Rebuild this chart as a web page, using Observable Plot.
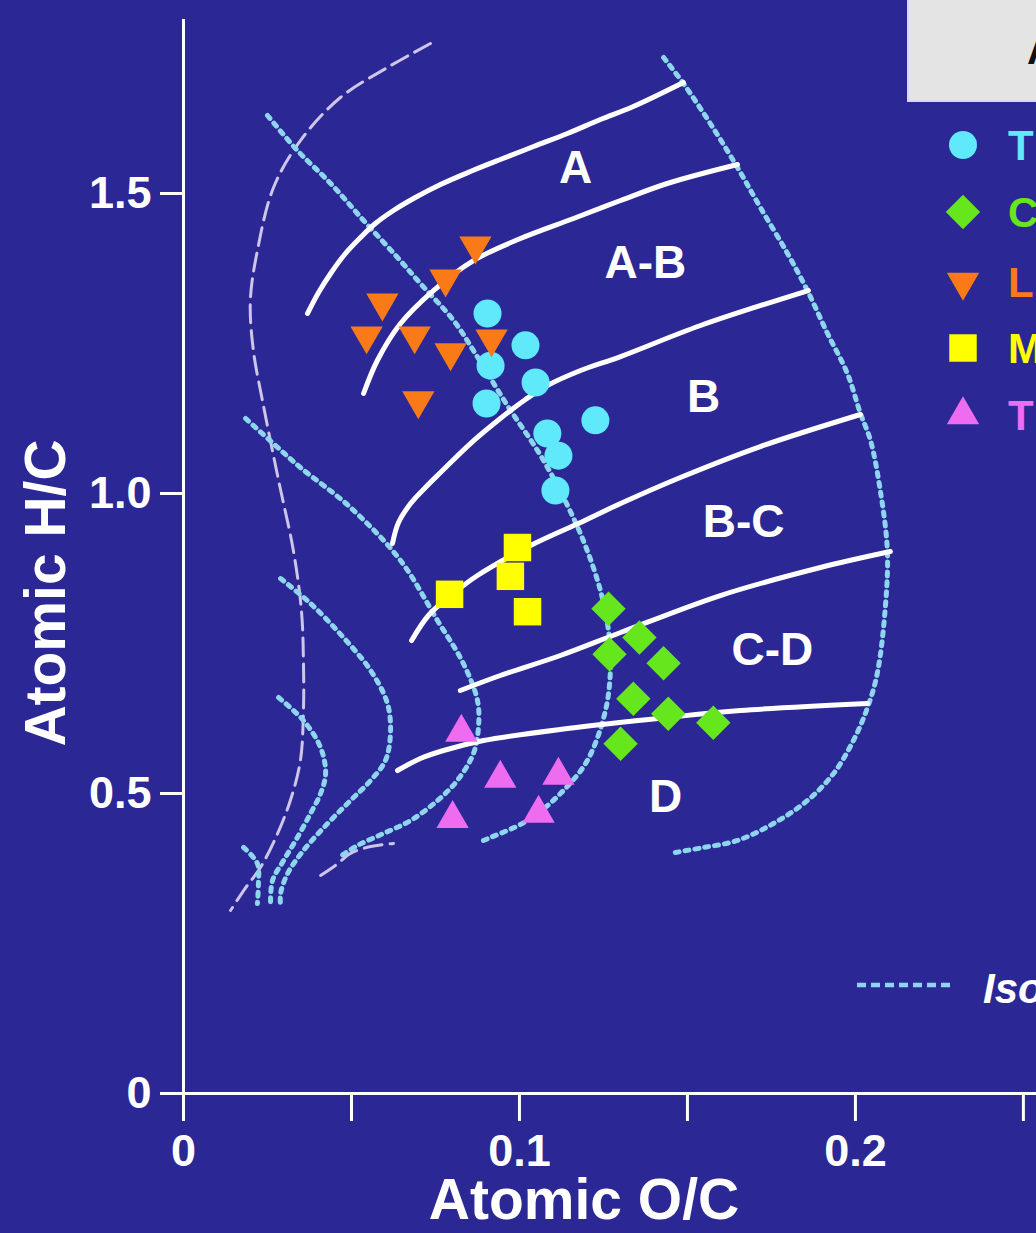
<!DOCTYPE html>
<html>
<head>
<meta charset="utf-8">
<script src="https://cdn.jsdelivr.net/npm/d3@7"></script>
<script src="https://cdn.jsdelivr.net/npm/@observablehq/plot@0.6"></script>
<style>
  html, body { margin: 0; padding: 0; background: #2b2795; overflow: hidden; width: 1036px; height: 1233px; }
  #wrap { position: relative; width: 1036px; height: 1233px; overflow: hidden; }
  #overlay { position: absolute; left: 0; top: 0; pointer-events: none; }
</style>
</head>
<body>
<div id="wrap"></div>
<script>
// ---------- axis ticks ----------
const xTickValues = [0, 0.05, 0.1, 0.15, 0.2, 0.25];
const xTickLabels = ["0", "", "0.1", "", "0.2", ""];
const yTickValues = [0, 0.5, 1.0, 1.5];
const yTickLabels = ["0", "0.5", "1.0", "1.5"];
const xDomain = [0, 0.2539];
const yDomain = [0, 1.8217];
const yAxisTop = 1.79;

// ---------- sample series (O/C, H/C) ----------
const circleOC = [0.0905, 0.1018, 0.0914, 0.1048, 0.0902, 0.1226, 0.1083, 0.1116, 0.1107];
const circleHC = [1.300, 1.247, 1.213, 1.185, 1.150, 1.122, 1.100, 1.063, 1.005];
const diamondOC = [0.1265, 0.1357, 0.1268, 0.1429, 0.1339, 0.1443, 0.1577, 0.1301];
const diamondHC = [0.808, 0.760, 0.732, 0.717, 0.658, 0.633, 0.618, 0.583];
const downTriOC = [0.0869, 0.0780, 0.0592, 0.0545, 0.0688, 0.0795, 0.0917, 0.0699];
const downTriHC = [1.413, 1.358, 1.318, 1.263, 1.263, 1.235, 1.258, 1.155];
const squareOC = [0.0994, 0.0973, 0.0792, 0.1024];
const squareHC = [0.910, 0.862, 0.832, 0.803];
const upTriOC = [0.0827, 0.0943, 0.1116, 0.0801, 0.1057];
const upTriHC = [0.602, 0.525, 0.530, 0.458, 0.467];

const legendLabels = ["T", "C", "L", "M", "T"];
const seriesColors = ["#5fe9fb", "#66e61c", "#f97a16", "#ffff00", "#ee6cef"];

// ---------- organic facies boundaries (white) ----------
const facies1 = [[0.0369,1.300],[0.0402,1.335],[0.0438,1.3667],[0.0482,1.40],[0.0527,1.4267],[0.0571,1.45],[0.0625,1.4717],[0.0690,1.4933],[0.0765,1.515],[0.0854,1.5367],[0.0943,1.5567],[0.1042,1.5783],[0.1143,1.60],[0.1241,1.6233],[0.1339,1.645],[0.1488,1.685]];
const facies2 = [[0.0536,1.1667],[0.0577,1.2217],[0.0646,1.2833],[0.0744,1.3383],[0.0863,1.3883],[0.1003,1.425],[0.1161,1.4583],[0.1301,1.4883],[0.1440,1.5167],[0.1649,1.5483]];
const facies3 = [[0.0622,0.9167],[0.0640,0.9517],[0.0676,0.9833],[0.0720,1.01],[0.0765,1.035],[0.0854,1.0833],[0.0943,1.125],[0.1018,1.1567],[0.1083,1.18],[0.1182,1.205],[0.1301,1.2283],[0.1539,1.28],[0.1860,1.3383]];
const facies4 = [[0.0679,0.755],[0.0729,0.7967],[0.0792,0.8283],[0.0875,0.8633],[0.1033,0.9133],[0.1182,0.9517],[0.1301,0.9833],[0.1479,1.0267],[0.1717,1.0783],[0.2015,1.1317]];
const facies5 = [[0.0824,0.6717],[0.0943,0.6967],[0.1122,0.73],[0.1301,0.7683],[0.1598,0.83],[0.1896,0.8767],[0.2104,0.9033]];
const facies6 = [[0.0637,0.5383],[0.0705,0.5583],[0.0774,0.5717],[0.0893,0.5883],[0.1143,0.6083],[0.1440,0.6267],[0.1658,0.6383],[0.2036,0.65]];

// ---------- isoreflectance lines (dotted) ----------
const iso1 = [[0.0250,1.63],[0.0339,1.5717],[0.0438,1.5167],[0.0536,1.455],[0.0637,1.3933],[0.0705,1.35],[0.0804,1.2883],[0.0863,1.2383],[0.0964,1.1467],[0.1063,1.0633],[0.1143,0.98],[0.1196,0.9133],[0.1241,0.8383],[0.1265,0.7717],[0.1271,0.71],[0.1256,0.6383],[0.1202,0.555],[0.1122,0.5],[0.1024,0.455],[0.0914,0.4267],[0.0878,0.4183]];
const iso2 = [[0.1429,1.7267],[0.1488,1.6833],[0.1568,1.6167],[0.1649,1.5433],[0.1717,1.4767],[0.1798,1.4],[0.1857,1.3383],[0.1917,1.2667],[0.1976,1.2],[0.2015,1.1333],[0.2045,1.0883],[0.2074,1.005],[0.2095,0.905],[0.2089,0.81],[0.2065,0.70],[0.2036,0.6433],[0.1994,0.5883],[0.1935,0.5333],[0.1857,0.4883],[0.1756,0.45],[0.1649,0.4217],[0.1548,0.41],[0.1464,0.4017]];
const iso3 = [[0.0185,1.125],[0.0274,1.08],[0.0348,1.0433],[0.0497,0.9767],[0.0646,0.8883],[0.0756,0.7883],[0.0833,0.7167],[0.0875,0.655],[0.0878,0.61],[0.0863,0.5667],[0.0815,0.5217],[0.0756,0.4883],[0.0676,0.455],[0.0595,0.4333],[0.0518,0.4133],[0.0467,0.395]];
const iso4 = [[0.0289,0.8583],[0.0378,0.8167],[0.0476,0.76],[0.0557,0.705],[0.0607,0.65],[0.0616,0.60],[0.0601,0.555],[0.0557,0.5217],[0.0497,0.4883],[0.0429,0.45],[0.0357,0.405],[0.0310,0.3667],[0.0289,0.3333],[0.0289,0.3133]];
const iso5 = [[0.0283,0.66],[0.0357,0.6217],[0.0408,0.5767],[0.0423,0.5333],[0.0408,0.50],[0.0378,0.4667],[0.0339,0.4267],[0.0298,0.3883],[0.0265,0.355],[0.0259,0.3167]];
const iso6 = [[0.0179,0.41],[0.0220,0.3833],[0.0223,0.35],[0.0220,0.3167]];

// ---------- coal band limit (dashed) ----------
const band1 = [[0.0735,1.75],[0.0607,1.71],[0.0467,1.66],[0.0348,1.5883],[0.0268,1.51],[0.0220,1.405],[0.0199,1.3217],[0.0208,1.2383],[0.0235,1.155],[0.0283,1.0217],[0.0327,0.905],[0.0351,0.805],[0.0357,0.7217],[0.0357,0.6383],[0.0348,0.555],[0.0318,0.4883],[0.0280,0.4333],[0.0229,0.3767],[0.0179,0.3383],[0.0140,0.305]];
const band2 = [[0.0408,0.3633],[0.0452,0.38],[0.0497,0.40],[0.0557,0.4117],[0.0625,0.4167]];

// ---------- zone labels ----------
const zoneNames = ["A", "A-B", "B", "B-C", "C-D", "D"];
const zoneOC = [0.1167, 0.1375, 0.1548, 0.1667, 0.1753, 0.1435];
const zoneHC = [1.5417, 1.3833, 1.16, 0.9517, 0.7383, 0.4933];

// ---------- build tables ----------
const toPts = (oc, hc, s) => oc.map((x, i) => ({x, y: hc[i], s}));
const circles = toPts(circleOC, circleHC, 0);
const diamonds = toPts(diamondOC, diamondHC, 1);
const downTris = toPts(downTriOC, downTriHC, 2);
const squares = toPts(squareOC, squareHC, 3);
const upTris = toPts(upTriOC, upTriHC, 4);
const flatten = (arrs) => arrs.flatMap((a, k) => a.map(([x, y]) => ({x, y, k})));
const facies = flatten([facies1, facies2, facies3, facies4, facies5, facies6]);
const isos = flatten([iso1, iso2, iso3, iso4, iso5, iso6]);
const bands = flatten([band1, band2]);
const zones = zoneNames.map((t, i) => ({t, x: zoneOC[i], y: zoneHC[i]}));

const triangleDown = {
  draw(ctx, size) {
    const h = Math.sqrt(size / (3 * Math.sqrt(3)));
    ctx.moveTo(0, 2 * h);
    ctx.lineTo(-Math.sqrt(3) * h, -h);
    ctx.lineTo(Math.sqrt(3) * h, -h);
    ctx.closePath();
  }
};

const isoColor = "#8ed6ee";
const bandColor = "#cdc5ea";
const font = "'Liberation Sans', Arial, Helvetica, sans-serif";

const chart = Plot.plot({
  width: 1036,
  height: 1233,
  marginLeft: 183,
  marginRight: 0,
  marginTop: 0,
  marginBottom: 140,
  x: {domain: xDomain},
  y: {domain: yDomain},
  style: {background: "#2b2795", color: "white", fontFamily: font, fontWeight: "bold", overflow: "hidden"},
  marks: [
    Plot.line(bands, {x: "x", y: "y", z: "k", curve: "catmull-rom", stroke: bandColor, strokeWidth: 3, strokeDasharray: "18 8"}),
    Plot.line(isos, {x: "x", y: "y", z: "k", curve: "catmull-rom", stroke: isoColor, strokeWidth: 5, strokeDasharray: "4 6"}),
    Plot.line(facies, {x: "x", y: "y", z: "k", curve: "catmull-rom", stroke: "white", strokeWidth: 5}),
    Plot.text(zones, {x: "x", y: "y", text: "t", fill: "white", fontSize: 46, fontWeight: "bold"}),
    Plot.dot(circles, {x: "x", y: "y", r: 14, symbol: "circle", fill: seriesColors[0]}),
    Plot.dot(diamonds, {x: "x", y: "y", r: 15.5, symbol: "diamond2", fill: seriesColors[1]}),
    Plot.dot(downTris, {x: "x", y: "y", r: 12, symbol: triangleDown, fill: seriesColors[2]}),
    Plot.dot(squares, {x: "x", y: "y", r: 15.5, symbol: "square", fill: seriesColors[3]}),
    Plot.dot(upTris, {x: "x", y: "y", r: 12, symbol: "triangle", fill: seriesColors[4]}),
    Plot.ruleY([0], {stroke: "white", strokeWidth: 3}),
    Plot.ruleX([0], {y1: 0, y2: yAxisTop, stroke: "white", strokeWidth: 3}),
    Plot.axisX({ticks: xTickValues, tickFormat: d => xTickLabels[xTickValues.indexOf(d)], tickSize: 28, tickPadding: 13, fontSize: 45, fontWeight: "bold", strokeWidth: 3, label: null}),
    Plot.axisY({ticks: yTickValues, tickFormat: d => yTickLabels[yTickValues.indexOf(d)], tickSize: 23, tickPadding: 9, fontSize: 45, fontWeight: "bold", strokeWidth: 3, label: null}),
    Plot.text(["Atomic O/C"], {frameAnchor: "bottom", textAnchor: "middle", lineAnchor: "middle", dx: -26, dy: 107, fontSize: 57, fontWeight: "bold", fill: "white"}),
    Plot.text(["Atomic H/C"], {frameAnchor: "left", textAnchor: "middle", dx: -137, dy: 46, rotate: -90, fontSize: 57, fontWeight: "bold", fill: "white"})
  ]
});
const wrap = document.getElementById("wrap");
wrap.appendChild(chart);

// ---------- legend (overlay) ----------
const ov = d3.select(wrap).append("svg").attr("id", "overlay")
  .attr("width", 1036).attr("height", 1233)
  .style("font-family", font).style("font-weight", "bold");
ov.append("rect").attr("x", 908).attr("y", -4).attr("width", 140).attr("height", 105)
  .attr("fill", "#e4e4e4").attr("stroke", "#d8d8f2").attr("stroke-width", 2);
ov.append("text").attr("x", 1027).attr("y", 64).attr("font-size", 40).attr("fill", "#111").text("A");

const legendSymbols = [d3.symbolCircle, d3.symbolDiamond2, triangleDown, d3.symbolSquare, d3.symbolTriangle];
const legendR = [14, 15.5, 12, 15.5, 12];
const legendRowY = [145, 212, 282, 348, 415];
legendLabels.forEach((lab, i) => {
  ov.append("path")
    .attr("transform", `translate(963,${legendRowY[i]})`)
    .attr("d", d3.symbol(legendSymbols[i], Math.PI * legendR[i] * legendR[i])())
    .attr("fill", seriesColors[i]);
  ov.append("text").attr("x", 1008).attr("y", legendRowY[i]).attr("dy", "0.36em")
    .attr("font-size", 42).attr("fill", seriesColors[i]).text(lab);
});
ov.append("line").attr("x1", 857).attr("x2", 950).attr("y1", 985).attr("y2", 985)
  .attr("stroke", isoColor).attr("stroke-width", 4.5).attr("stroke-dasharray", "9 5");
ov.append("text").attr("x", 983).attr("y", 988).attr("dy", "0.36em").attr("font-size", 42)
  .attr("font-style", "italic").attr("fill", "white").text("Iso");
</script>
</body>
</html>
